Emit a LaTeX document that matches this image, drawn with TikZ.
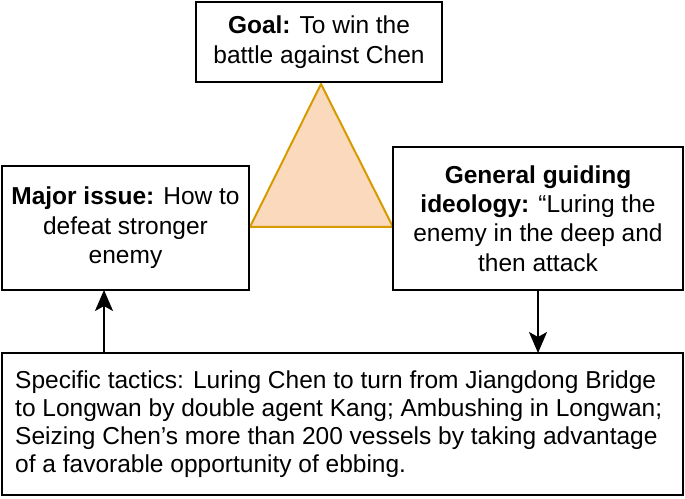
\documentclass[tikz,border=0pt]{standalone}
\usepackage{fontspec}
\setmainfont{Liberation Sans}
\usetikzlibrary{arrows.meta}
\definecolor{trifill}{HTML}{FAD9BD}
\definecolor{triline}{HTML}{D79B00}
\tikzset{
  box/.style={draw=black, line width=2pt, rectangle, inner sep=0pt, outer sep=0pt,
    align=center, font=\fontsize{24.5}{29.4}\selectfont},
  arr/.style={line width=1.8pt, -{Stealth[length=21pt,width=18pt,inset=5pt]}}
}
\begin{document}
\begin{tikzpicture}[x=1pt,y=1pt]
\useasboundingbox[fill=white] (0,0) rectangle (685,498);
% triangle
\coordinate (tA) at (321,414);
\coordinate (tB) at (250,271);
\coordinate (tC) at (393,271);
\draw[fill=trifill, draw=triline, line width=2pt, line join=round] (tA) -- (tB) -- (tC) -- cycle;
% boxes
\node[box, minimum width=246pt, minimum height=80pt] (goal) at (319,456)
  {\textbf{Goal:} To win the\\battle against Chen};
\node[box, minimum width=247pt, minimum height=124pt] (major) at (125.5,270)
  {\textbf{Major issue:} How to\\defeat stronger\\enemy};
\node[box, minimum width=290pt, minimum height=143pt] (gen) at (538,279.5)
  {\textbf{General guiding}\\\textbf{ideology:} “Luring the\\enemy in the deep and\\then attack};
\node[box, minimum width=681pt, minimum height=142pt] (tac) at (342.5,74) {};
\node[anchor=west, inner sep=0pt, align=left, font=\fontsize{24.5}{27.8}\selectfont] (tactxt) at (15,74)
  {Specific tactics: Luring Chen to turn from Jiangdong Bridge\\to Longwan by double agent Kang; Ambushing in Longwan;\\Seizing Chen’s more than 200 vessels by taking advantage\\of a favorable opportunity of ebbing.};
% connectors
\coordinate (ax) at (104,0);
\draw[arr] (tac.north -| ax) -- (major.south -| ax);
\draw[arr] (gen.south) -- (tac.north -| gen.south);
\end{tikzpicture}
\end{document}
